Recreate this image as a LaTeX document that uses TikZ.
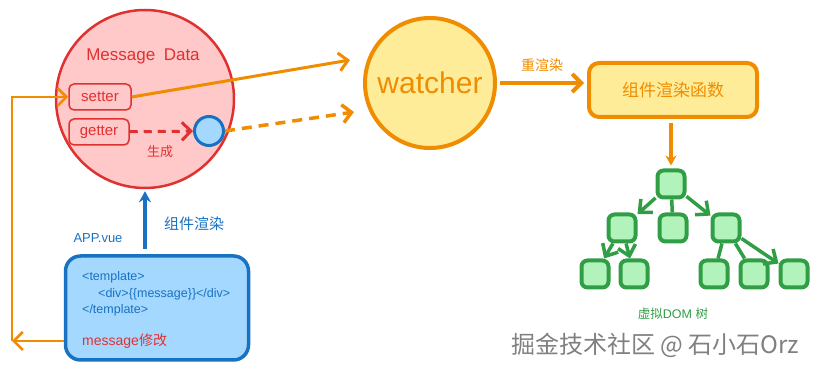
\documentclass[tikz,border=0pt]{standalone}
\usepackage{fontspec}
\setmainfont{Liberation Sans}
\newfontfamily\cjk{Noto Sans CJK SC}
\usetikzlibrary{positioning, arrows.meta, calc}
\definecolor{dataRed}{HTML}{E03131}
\definecolor{dataFill}{HTML}{FFC9C9}
\definecolor{depBlue}{HTML}{1971C2}
\definecolor{depFill}{HTML}{A5D8FF}
\definecolor{watchOrange}{HTML}{F08C00}
\definecolor{watchFill}{HTML}{FFEC99}
\definecolor{domGreen}{HTML}{2F9E44}
\definecolor{domFill}{HTML}{B2F2BB}
\newcommand{\fs}[1]{\fontsize{#1}{#1}\selectfont}

\begin{document}
\begin{tikzpicture}[
        x=1pt, y=-1pt,
        blob/.style={circle, draw=#1, line width=2pt, inner sep=0pt},
        tag/.style={draw=dataRed, fill=dataFill, rounded corners=5pt, line width=1.5pt, text=dataRed, font=\fs{15}, minimum height=26pt, inner sep=2pt},
        arr/.style={-{Straight Barb[length=9pt, width=18pt]}, line width=2.5pt, draw=#1},
        arr/.default=watchOrange,
        darr/.style={arr=#1, dashed, dash pattern=on 10pt off 7pt, line width=3.5pt},
        vnode/.style={draw=domGreen, fill=domFill, line width=4pt, rounded corners=6pt, minimum size=27pt, inner sep=0pt},
        tarr/.style={-{Straight Barb[length=10pt, width=18pt]}, draw=domGreen, line width=3.5pt},
        tline/.style={draw=domGreen, line width=3.5pt},
        code/.style={anchor=west, text=depBlue, font=\fs{12.5}, inner sep=0pt},
    ]
    \useasboundingbox (0,0) rectangle (820,371);

    % ---- Message Data (left) ----
    \node[blob=dataRed, fill=dataFill, line width=2.5pt, minimum size=178pt] (data) at (145,99) {};
    \node[text=dataRed, font=\fs{17}] (data-title) at (143,56) {Message\enspace Data};
    \node[tag, minimum width=62pt] (setter) at (100,97) {setter};
    \node[tag, minimum width=60pt] (getter) at (99,132) {getter};
    \node[blob=depBlue, fill=depFill, line width=3pt, minimum size=29pt] (dep) at (209,131) {};
    \node[text=dataRed, font=\cjk\fs{13}] (gen-label) at (160,152) {生成};

    \draw[darr=dataRed, dash pattern=on 8pt off 6pt, line width=3pt] (getter) -- (dep);

    % ---- App.vue (bottom left) ----
    \node[draw=depBlue, fill=depFill, line width=3.5pt, rounded corners=15pt, minimum width=183pt, minimum height=104pt] (app) at (157,308) {};
    \node[text=depBlue, font=\fs{13}] (app-label) at (98,238) {APP.vue};
    \node[code] (tpl-open) at (82,277) {<template>};
    \node[code] (tpl-div) at (98,294) {<div>\{\{message\}\}</div>};
    \node[code] (tpl-close) at (82,310) {</template>};
    \node[code, text=dataRed, font=\fs{14}] (msg) at (82,341) {message{\cjk 修改}};
    \node[text=depBlue, font=\cjk\fs{15}] (render-label) at (194,224) {组件渲染};

    \draw[-{Stealth[length=11pt, width=12pt]}, draw=depBlue, fill=depBlue, line width=4.5pt, shorten <=5pt, shorten >=2pt] (data.south |- app.north) -- (data.south);

    % ---- feedback loop ----
    \coordinate (back) at (12,341);
    \draw[arr] (app.west |- msg) -- (back);
    \draw[arr] (back) |- (setter.west);

    % ---- watcher ----
    \node[blob=watchOrange, fill=watchFill, line width=4pt, minimum size=130pt, text=watchOrange, font=\fs{30}] (watcher) at (430,83) {watcher};
    \coordinate (set-tip) at (350,60);
    \coordinate (dep-tip) at (354,112);
    \draw[arr, line width=3pt] (setter.east) -- (set-tip);
    \draw[darr=watchOrange] (dep.east) -- (dep-tip);

    % ---- render function ----
    \node[draw=watchOrange, fill=watchFill, line width=4pt, rounded corners=10pt, minimum width=168pt, minimum height=54pt, text=watchOrange, font=\cjk\fs{17}] (render) at (673,90) {组件渲染函数};
    \draw[arr, line width=4pt, shorten <=3pt, shorten >=3pt] (watcher.east |- 0,83) -- (render.west |- 0,83)
        node[midway, above=6pt, text=watchOrange, font=\cjk\fs{14}] (rerender-label) {重渲染};

    % ---- virtual DOM tree ----
    \node[vnode] (root) at (671,184) {};
    \node[vnode] (l2a) at (622,228) {};
    \node[vnode] (l2b) at (673,228) {};
    \node[vnode] (l2c) at (726,228) {};
    \node[vnode] (l3a) at (595,274) {};
    \node[vnode] (l3b) at (634,274) {};
    \node[vnode] (l3c) at (714,274) {};
    \node[vnode] (l3d) at (754,274) {};
    \node[vnode] (l3e) at (794,274) {};
    \node[text=domGreen, font=\fs{12.5}] (dom-label) at (673,314) {{\cjk 虚拟}DOM {\cjk 树}};

    \draw[-{Stealth[length=10pt, width=11pt]}, draw=watchOrange, fill=watchOrange, line width=4pt, shorten <=4pt, shorten >=3pt] (render.south -| root) -- (root.north);
    \draw[tarr] (root) -- (l2a);
    \draw[tline] (root) -- (l2b);
    \draw[tarr] (root) -- (l2c);
    \draw[tarr] (l2a) -- (l3a);
    \draw[tarr] (l2a) -- (l3b);
    \draw[tline] (l2c) -- (l3c);
    \draw[tline] (l2c) -- (l3d);
    \draw[tarr] (l2c) -- (l3e);

    % ---- watermark ----
    \node[text=black!50, font=\cjk\fs{24}] (mark) at (655,345) {掘金技术社区 @ 石小石Orz};
\end{tikzpicture}
\end{document}
